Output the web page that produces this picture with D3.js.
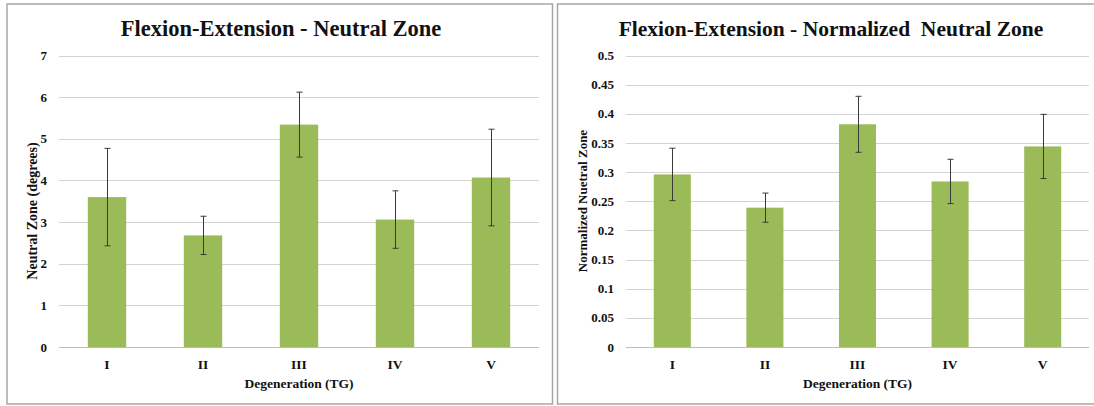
<!DOCTYPE html>
<html><head><meta charset="utf-8">
<script src="https://cdn.jsdelivr.net/npm/d3@7"></script>
<style>
body{margin:0;background:#fff;}
svg text{font-weight:bold;fill:#111;}
</style></head>
<body><svg id="c" width="1094" height="406"></svg>
<script>
const categories = ["I","II","III","IV","V"];
const nzValues = [3.60, 2.68, 5.34, 3.06, 4.07];
const nzErrors = [1.17, 0.46, 0.78, 0.69, 1.16];
const nzTicks = [0,1,2,3,4,5,6,7];
const nnzValues = [0.296, 0.239, 0.382, 0.284, 0.344];
const nnzErrors = [0.045, 0.025, 0.048, 0.038, 0.055];
const nnzTicks = [0,0.05,0.1,0.15,0.2,0.25,0.3,0.35,0.4,0.45,0.5];

const FONT = "'Liberation Serif', 'Times New Roman', Times, 'DejaVu Serif', serif";
const svg = d3.select("#c").attr("font-family", FONT);

svg.append("rect").attr("x",7).attr("y",4).attr("width",545.5).attr("height",400)
  .attr("fill","none").attr("stroke","#a6a6a6").attr("stroke-width",1.5);
svg.append("rect").attr("x",557.5).attr("y",4).attr("width",560).attr("height",400)
  .attr("fill","none").attr("stroke","#a6a6a6").attr("stroke-width",1.5);

function panel(o){
  const g = svg.append("g");
  const x = d3.scaleBand().domain(categories).range([o.x0,o.x1]).paddingInner(0.6).paddingOuter(0.3);
  const y = d3.scaleLinear().domain([0,o.max]).range([347,55.5]);
  g.append("g").selectAll("line").data(o.ticks).join("line")
    .attr("x1",o.x0).attr("x2",o.x1)
    .attr("y1",d=>Math.round(y(d))+0.5).attr("y2",d=>Math.round(y(d))+0.5)
    .attr("stroke",d=>d===0?"#bdbdbd":"#d3d3d3").attr("stroke-width",1.2);
  g.append("g").selectAll("text").data(o.ticks).join("text")
    .attr("x",o.labelX).attr("y",d=>y(d)).attr("dy","0.35em")
    .attr("text-anchor","end").attr("font-size",13).text(d=>d3.format("~g")(d));
  g.append("g").selectAll("rect").data(o.values).join("rect")
    .attr("x",(d,i)=>x(categories[i])).attr("width",x.bandwidth())
    .attr("y",d=>y(d)).attr("height",d=>y(0)-y(d)).attr("fill","#9bbb59");
  const eb = g.append("g").attr("stroke","#3a3a3a").attr("stroke-width",1);
  o.values.forEach((v,i)=>{
    const cx = Math.round(x(categories[i])+x.bandwidth()/2)+0.5;
    const t = y(v+o.errors[i]), b = y(v-o.errors[i]);
    eb.append("line").attr("x1",cx).attr("x2",cx).attr("y1",t).attr("y2",b);
    eb.append("line").attr("x1",cx-3).attr("x2",cx+3).attr("y1",t).attr("y2",t);
    eb.append("line").attr("x1",cx-3).attr("x2",cx+3).attr("y1",b).attr("y2",b);
  });
  g.append("g").selectAll("text").data(categories).join("text")
    .attr("x",d=>x(d)+x.bandwidth()/2).attr("y",369)
    .attr("text-anchor","middle").attr("font-size",13.5).text(d=>d);
  g.append("text").attr("x",(o.x0+o.x1)/2).attr("y",388).attr("text-anchor","middle")
    .attr("font-size",13.5).text("Degeneration (TG)");
  g.append("text").attr("transform",`translate(${o.ytX},${o.ytY}) rotate(-90)`)
    .attr("text-anchor","middle").attr("dy","0.35em").attr("font-size",o.ytSize).text(o.yTitle);
  g.append("text").attr("x",o.titleX).attr("y",36).attr("text-anchor","middle")
    .attr("font-size",o.titleSize).style("white-space","pre").text(o.title);
}

panel({x0:59,x1:539,max:7,ticks:nzTicks,values:nzValues,errors:nzErrors,labelX:47,
  yTitle:"Neutral Zone (degrees)",ytX:32,ytY:211,ytSize:14,
  title:"Flexion-Extension - Neutral Zone",titleX:281,titleSize:22.5});
panel({x0:626,x1:1089,max:0.5,ticks:nnzTicks,values:nnzValues,errors:nnzErrors,labelX:614,
  yTitle:"Normalized Nuetral Zone",ytX:582,ytY:201,ytSize:13,
  title:"Flexion-Extension - Normalized  Neutral Zone",titleX:831,titleSize:21.5});
</script></body></html>
